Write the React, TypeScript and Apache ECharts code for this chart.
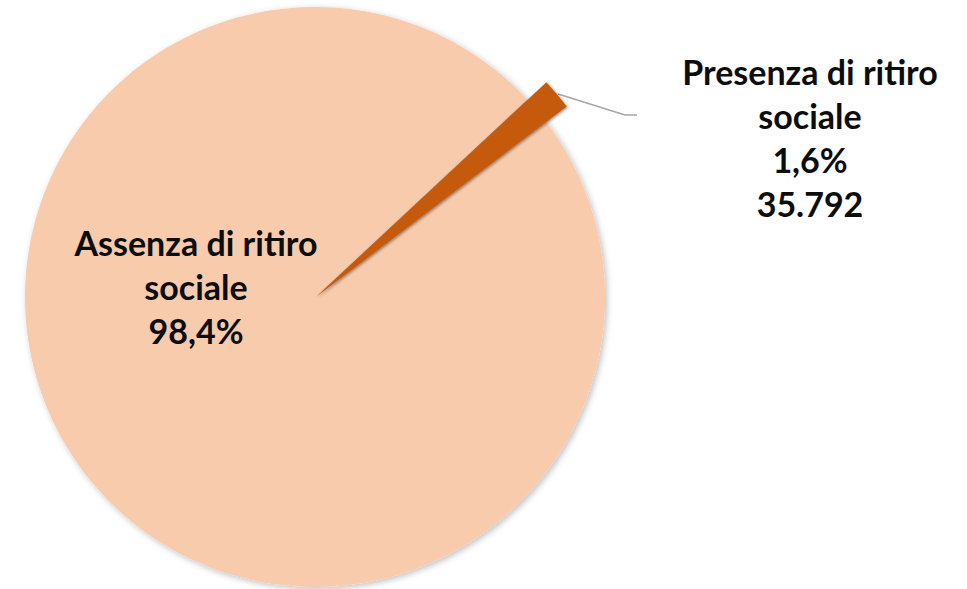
import React, { useEffect, useRef } from "react";
import * as echarts from "echarts";

const categories = ["Presenza di ritiro sociale", "Assenza di ritiro sociale"];
const values = [35792, 2201208];
const colors = ["#C55A11", "#F8CBAD"];

const total = values.reduce((a, b) => a + b, 0);
const pct = (v: number) => ((v / total) * 100).toFixed(1).replace(".", ",") + "%";
const fmtNum = (v: number) => v.toString().replace(/\B(?=(\d{3})+(?!\d))/g, ".");
const wrapName = (n: string) => n.replace(" sociale", "\nsociale");

export default function App() {
  const ref = useRef<HTMLDivElement>(null);
  useEffect(() => {
    if (!ref.current) return;
    const chart = echarts.init(ref.current, null, { renderer: "svg" });
    const textStyle = {
      fontFamily: "Lato, 'Open Sans', sans-serif",
      fontWeight: "bold" as const,
      fontSize: 34,
      lineHeight: 44,
      color: "#0d0d0d",
      align: "center" as const,
    };
    chart.setOption({
      animation: false,
      backgroundColor: "#ffffff",
      series: [
        {
          type: "pie",
          center: [315, 297],
          radius: [0, 290],
          startAngle: 43,
          clockwise: true,
          silent: true,
          z: 1,
          data: categories.map((name, i) => ({
            name,
            value: values[i],
            itemStyle: { color: colors[1] },
            label: { show: i === 1 },
            labelLine: { show: false },
          })),
          itemStyle: {
            shadowBlur: 6,
            shadowColor: "rgba(0,0,0,0.25)",
            shadowOffsetX: 2,
            shadowOffsetY: 2,
          },
          label: {
            position: "inside",
            formatter: (p: any) => wrapName(p.name) + "\n" + pct(p.value),
            ...textStyle,
          },
          labelLayout: (p: any) =>
            p.dataIndex === 1
              ? { x: 196, y: 286, align: "center", verticalAlign: "middle" }
              : {},
        },
        {
          type: "pie",
          center: [316, 297],
          radius: [0, 315],
          startAngle: 43,
          clockwise: true,
          silent: true,
          z: 2,
          data: categories.map((name, i) => ({
            name,
            value: values[i],
            itemStyle:
              i === 0
                ? {
                    color: colors[0],
                    shadowBlur: 3,
                    shadowColor: "rgba(0,0,0,0.45)",
                    shadowOffsetX: 1,
                    shadowOffsetY: 1,
                  }
                : { color: "rgba(0,0,0,0)" },
            label: { show: i === 0 },
            labelLine: { show: i === 0 },
          })),
          label: {
            position: "outside",
            formatter: (p: any) =>
              wrapName(p.name) + "\n" + pct(p.value) + "\n" + fmtNum(p.value),
            ...textStyle,
          },
          labelLine: {
            lineStyle: { color: "#a6a6a6", width: 1.5 },
            length: 20,
            length2: 10,
          },
          labelLayout: (p: any) =>
            p.dataIndex === 0
              ? {
                  x: 810,
                  y: 137,
                  align: "center",
                  verticalAlign: "middle",
                  labelLinePoints: [
                    [558, 94],
                    [625, 115],
                    [637, 115],
                  ],
                }
              : {},
        },
      ],
    });
    return () => chart.dispose();
  }, []);
  return (
    <div
      ref={ref}
      style={{ position: "fixed", left: 0, top: 0, width: 967, height: 589 }}
    />
  );
}
